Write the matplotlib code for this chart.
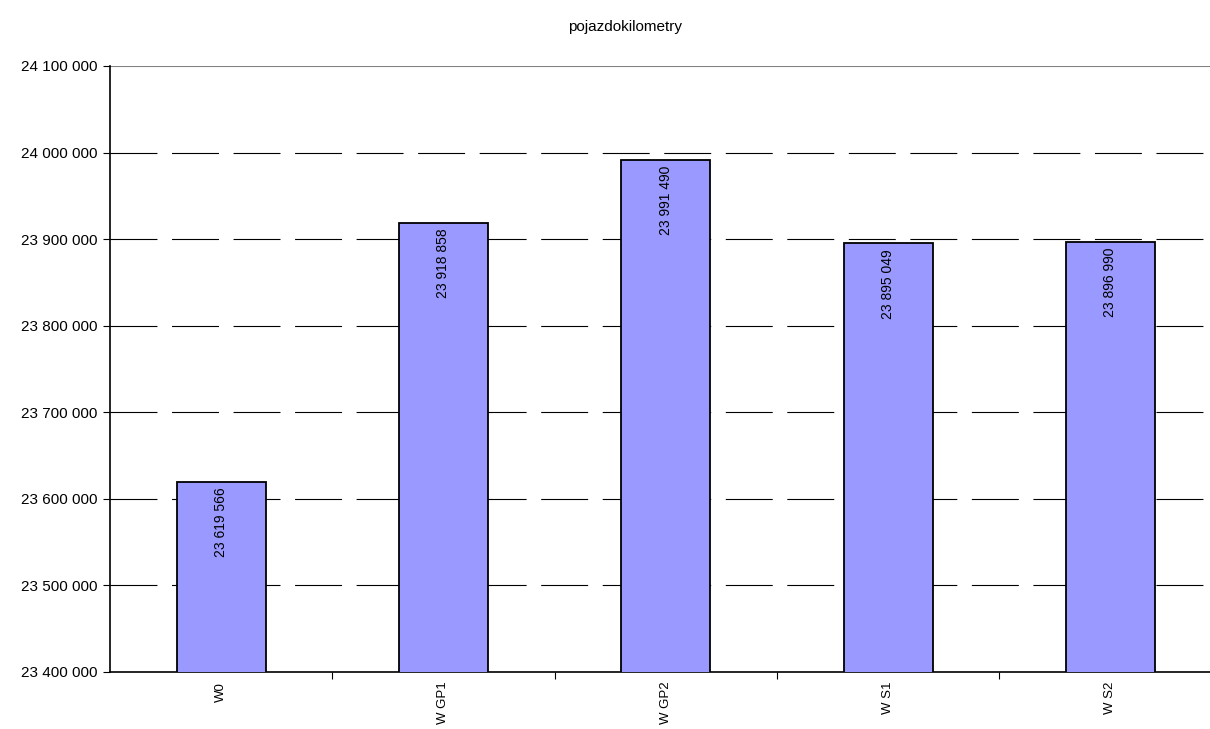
import matplotlib.pyplot as plt
from matplotlib.ticker import FuncFormatter

# Data
categories = ["W0", "W GP1", "W GP2", "W S1", "W S2"]
values = [23619566, 23918858, 23991490, 23895049, 23896990]
yticks = [23400000, 23500000, 23600000, 23700000, 23800000, 23900000, 24000000, 24100000]

plt.rcParams['font.family'] = ['Liberation Sans', 'DejaVu Sans']
plt.rcParams['lines.scale_dashes'] = False

fig = plt.figure(figsize=(12.1, 7.29), dpi=100)
# the plot area runs a little past the right edge of the picture
ax = fig.add_axes([0.0909, 0.0782, 0.9186, 0.8313])

def fmt(v):
    return f"{int(round(v)):,}".replace(",", " ")

x = list(range(len(categories)))
ax.bar(x, values, width=0.40, color="#9999FF", edgecolor="black", linewidth=1.3, zorder=3)

# value labels inside the bars, rotated
for xi, v in zip(x, values):
    ax.annotate(fmt(v), (xi, v), xytext=(0, -4), textcoords="offset points",
                rotation=90, ha="center", va="top", fontsize=10, zorder=4)

ax.set_xlim(-0.5, len(categories) - 0.5)
ax.set_ylim(yticks[0], yticks[-1])
ax.set_yticks(yticks)
ax.yaxis.set_major_formatter(FuncFormatter(lambda v, p: fmt(v)))

# gridlines: dashed, the top one solid gray
for t in yticks[1:-1]:
    ax.axhline(t, color="black", linewidth=0.8, linestyle=(0, (33.8, 10.5)), zorder=1)
ax.axhline(yticks[-1], color="#808080", linewidth=1.5, zorder=1)

# category ticks between bars, labels centered under bars
ax.set_xticks([i + 0.5 for i in x[:-1]])
ax.set_xticklabels([])
ax.set_xticks(x, minor=True)
ax.set_xticklabels(categories, minor=True, rotation=90, fontsize=9.5)
ax.tick_params(axis="x", which="minor", length=0, pad=7)
ax.tick_params(axis="x", which="major", length=5, direction="out", color="black")
ax.tick_params(axis="y", length=5, direction="out", labelsize=11, pad=4)

for s in ["top", "right"]:
    ax.spines[s].set_visible(False)
ax.spines["left"].set_linewidth(1.2)
ax.spines["bottom"].set_linewidth(1.2)

fig.text(0.5165, 0.963, "pojazdokilometry", ha="center", va="center", fontsize=11)

fig.savefig("out.png", dpi=100)
